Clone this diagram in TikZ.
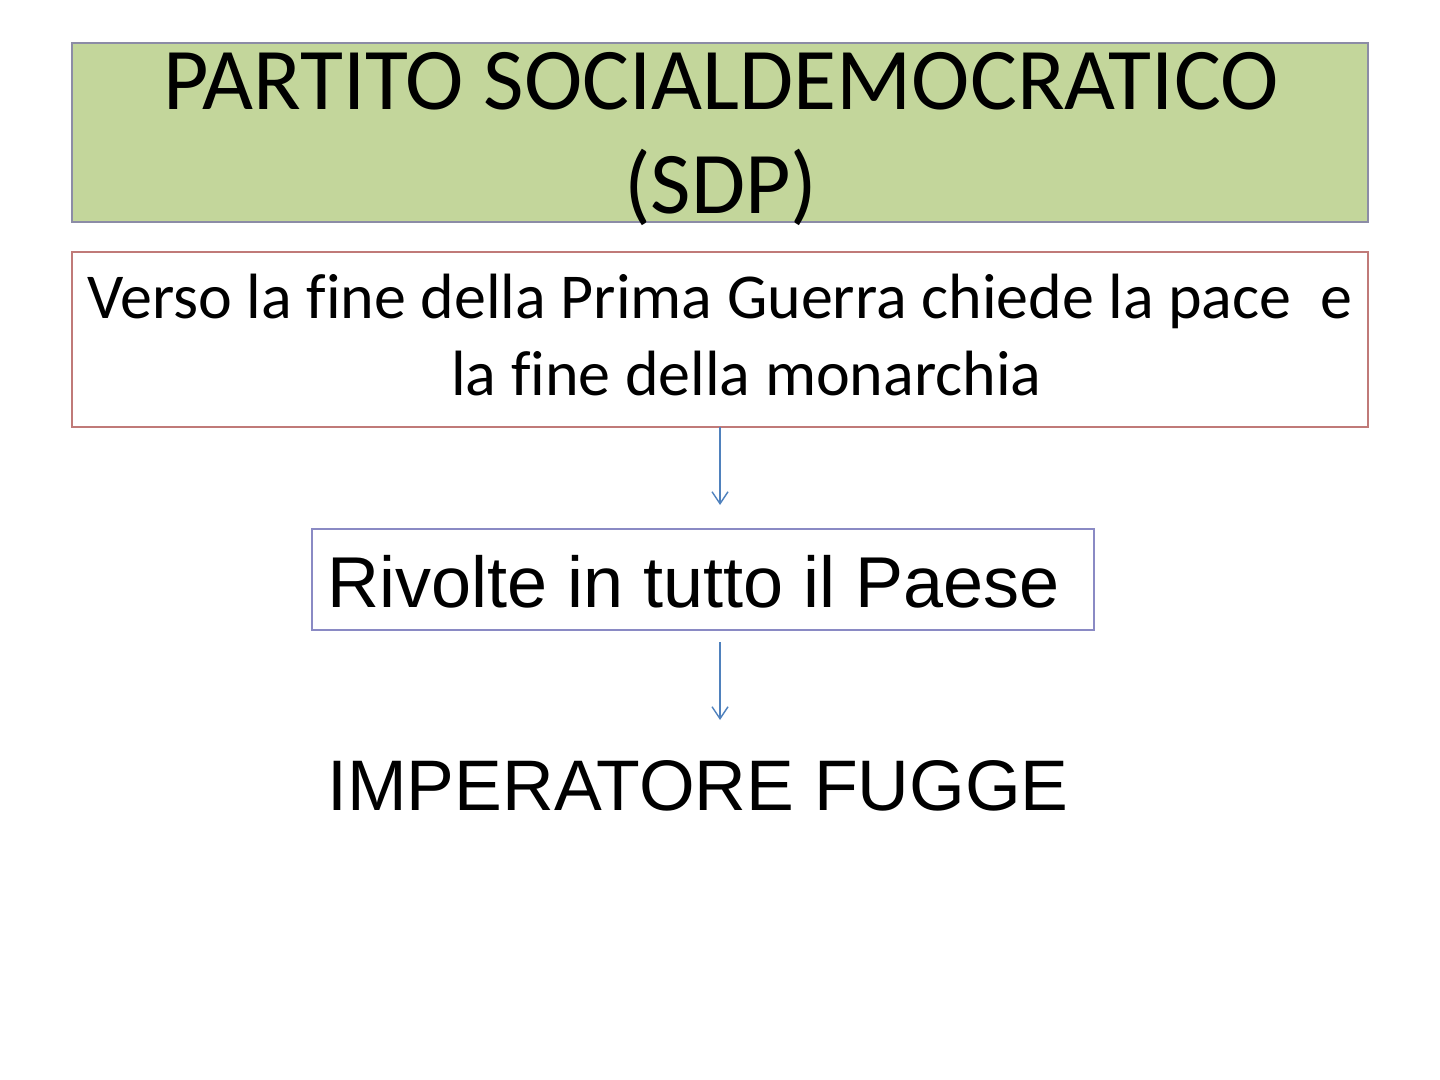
\documentclass[tikz,border=0pt]{standalone}
\usepackage{fontspec}
\setmainfont[Ligatures=CommonOff]{Carlito}
\newfontfamily\arialfont{Liberation Sans}
\usetikzlibrary{arrows.meta}
\definecolor{boxgreen}{HTML}{C3D69B}
\definecolor{greenedge}{HTML}{8C8CA6}
\definecolor{rededge}{HTML}{C07A78}
\definecolor{blueedge}{HTML}{8A8AC4}
\definecolor{arrowblue}{HTML}{4F81BD}
\tikzset{
  px/.style={x=0.5pt,y=-0.5pt},
  txt/.style={inner sep=0pt,anchor=base,text=black},
  flow/.style={draw=arrowblue,line width=0.7pt,-{Straight Barb[length=6pt,width=8pt,line width=0.7pt]}},
}
\begin{document}
\begin{tikzpicture}[px]
\useasboundingbox (0,0) rectangle (1440,1080);
% boxes
\draw[fill=boxgreen,draw=greenedge,line width=0.75pt] (72,43) rectangle (1368,222);
\draw[draw=rededge,line width=0.75pt] (72,252) rectangle (1368,427);
\coordinate (redS) at (720,427);
\draw[draw=blueedge,line width=0.75pt] (312,529) rectangle (1094,630);
% texts
\node[txt] (t1) at (721,110) {\fontsize{44pt}{50pt}\selectfont PARTITO SOCIALDEMOCRATICO};
\node[txt] (t2) at (721,214) {\fontsize{44pt}{50pt}\selectfont (SDP)};
\node[txt] (r1) at (720,319) {\fontsize{32pt}{38pt}\selectfont Verso la fine della Prima Guerra chiede la pace\ \ e};
\node[txt] (r2) at (746.5,396) {\fontsize{32pt}{38pt}\selectfont la fine della monarchia};
\node[txt,anchor=base west] (riv) at (327,607) {\arialfont\fontsize{36pt}{44pt}\selectfont Rivolte in tutto il Paese};
\node[txt,anchor=base west] (imp) at (327,810) {\arialfont\fontsize{35.8pt}{44pt}\selectfont IMPERATORE FUGGE};
% connectors
\coordinate (a1e) at (720,505);
\coordinate (a2s) at (720,642);
\coordinate (a2e) at (720,720);
\draw[flow] (redS) -- (a1e);
\draw[flow] (a2s) -- (a2e);
\end{tikzpicture}
\end{document}
